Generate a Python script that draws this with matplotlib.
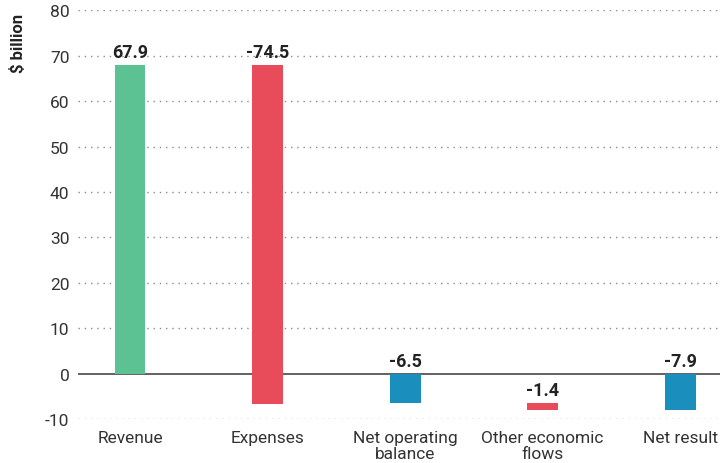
import matplotlib
matplotlib.use('Agg')
import matplotlib.pyplot as plt
import numpy as np

plt.rcParams['font.family'] = ['Roboto', 'DejaVu Sans']
plt.rcParams['axes.unicode_minus'] = False

# ---- data ($ billion)
categories = ['Revenue', 'Expenses', 'Net operating\nbalance',
              'Other economic\nflows', 'Net result']
values = [67.9, -74.5, -6.5, -1.4, -7.9]
# bar start for each step of the waterfall
bases = [0.0, 67.9, 0.0, -6.5, 0.0]
colors = ['#5DC293', '#E84B59', '#1A8FBE', '#E84B59', '#1A8FBE']
yticks = [-10, 0, 10, 20, 30, 40, 50, 60, 70, 80]

fig = plt.figure(figsize=(7.2, 4.64), dpi=100)
ax = fig.add_axes([0.108, 0.094, 0.892, 0.882])

x = np.arange(len(categories))

# ---- grid
for t in yticks:
    if t == 0:
        ax.axhline(t, color='#555555', linewidth=1.3, zorder=2)
    else:
        ax.axhline(t, color='#8a8a8a', linewidth=1.0,
                   linestyle=(0, (1, 3.5)), zorder=1)

ax.bar(x, values, bottom=bases, width=0.225, color=colors, zorder=3)

# ---- value labels above the upper edge of each bar
for xi, v, b in zip(x, values, bases):
    top = max(b, b + v)
    ax.annotate('%.1f' % v, (xi, top), xytext=(0, 3),
                textcoords='offset points', ha='center', va='bottom',
                fontsize=13, fontweight='bold', color='#222222')

ax.set_xlim(-0.38, 4.29)
ax.set_ylim(-10, 80)
ax.set_yticks(yticks)
ax.set_xticks(x)
ax.set_xticklabels(categories, linespacing=1.05)
ax.tick_params(axis='both', length=0, labelsize=12.5, colors='#333333')
ax.tick_params(axis='x', pad=8)
ax.tick_params(axis='y', pad=6)

for s in ax.spines.values():
    s.set_visible(False)

fig.text(0.025, 1 - 43 / 464.0, '$ billion', rotation=90, ha='center',
         va='center', fontsize=12, fontweight='bold', color='#222222')

fig.savefig('out.png', dpi=100)
